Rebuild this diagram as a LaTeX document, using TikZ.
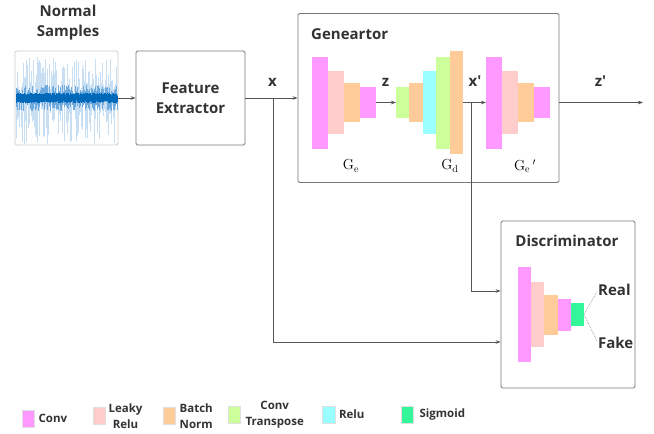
\documentclass[tikz,border=0pt]{standalone}
\usepackage{fontspec}
\setsansfont{Open Sans}
\usepackage{tikz}
\usetikzlibrary{arrows.meta,positioning}
\definecolor{convpink}{RGB}{255,153,255}
\definecolor{leakyrose}{RGB}{255,204,204}
\definecolor{bnorange}{RGB}{255,204,153}
\definecolor{tconvgreen}{RGB}{204,255,153}
\definecolor{relucyan}{RGB}{153,255,255}
\definecolor{sigmgreen}{RGB}{51,245,153}
\definecolor{txtgray}{RGB}{51,51,51}
\definecolor{linegray}{RGB}{85,85,85}
\definecolor{boxgray}{RGB}{120,120,120}
\definecolor{sigdark}{RGB}{0,105,185}
\definecolor{sigmid}{RGB}{110,170,222}
\definecolor{siglight}{RGB}{200,222,242}

\begin{document}
\begin{tikzpicture}[x=1pt,y=-1pt,>={Stealth[length=5pt,width=3.6pt]},
  every node/.style={text=txtgray,font=\sffamily\bfseries\fontsize{15}{20}\selectfont},
  box/.style={draw=boxgray,line width=0.8pt,rounded corners=1.5pt,inner sep=0pt},
  blk/.style={inner sep=0pt,outer sep=0pt,anchor=west},
  conn/.style={draw=linegray,line width=0.8pt},
  sym/.style={text=black,font=\rmfamily\fontsize{14.5}{16}\selectfont},
  legkey/.style={inner sep=0pt,minimum width=12.5,minimum height=17,draw=black!12,line width=0.3pt},
  legtxt/.style={inner sep=0pt,align=center,font=\sffamily\bfseries\fontsize{11.5}{16}\selectfont}]
  \useasboundingbox (0,0) rectangle (654,434);

  % input signal
  \node[box,draw=black!20,minimum width=103,minimum height=94] (sig) at (66.5,98) {};
  \pgfmathsetseed{42}
  \foreach \i in {0,...,400} {
    \pgfmathsetmacro{\xx}{16+\i*0.2525}
    \pgfmathsetmacro{\up}{5+36*rnd^5}
    \pgfmathsetmacro{\dn}{5+42*rnd^5}
    \draw[siglight,line width=0.3pt] (\xx,98-\up) -- (\xx,98+\dn);
  }
  \foreach \i in {0,...,300} {
    \pgfmathsetmacro{\xx}{16+\i*0.337}
    \pgfmathsetmacro{\up}{3+10*rnd^3}
    \pgfmathsetmacro{\dn}{3+10*rnd^3}
    \draw[sigmid,line width=0.25pt] (\xx,98-\up) -- (\xx,98+\dn);
  }
  \foreach \i in {0,...,400} {
    \pgfmathsetmacro{\xx}{16+\i*0.2525}
    \pgfmathsetmacro{\up}{1.5+3.5*rnd}
    \pgfmathsetmacro{\dn}{1.5+3.5*rnd}
    \draw[sigdark,line width=0.3pt] (\xx,98-\up) -- (\xx,98+\dn);
  }
  \node[align=center] (ns) at (68,23) {Normal\\Samples};

  \node[box,align=center,minimum width=109,minimum height=94] (fe) at (190.5,98) {Feature\\Extractor};

  % generator
  \node[box,minimum width=261,minimum height=169] (gen) at (428.5,98) {};
  \node[anchor=west,inner sep=0pt] (gtitle) at (311,34) {Geneartor};
  \foreach \c/\h [count=\i] in {convpink/92,leakyrose/63,bnorange/39,convpink/31} {
    \node[blk,fill=\c,minimum width=16,minimum height=\h] (ge\i) at ({296+16*\i},102.5) {};
    \node[blk,fill=\c,minimum width=16,minimum height=\h] (gp\i) at ({470+16*\i},102.5) {};
  }
  \foreach \c/\h [count=\i] in {tconvgreen/31,bnorange/39,relucyan/63,tconvgreen/92,bnorange/103}
    \node[blk,fill=\c,minimum width=13.4,minimum height=\h] (gd\i) at ({382.6+13.4*\i},102.5) {};
  \node[sym] (gelab) at (351,166) {G\textsubscript{e}};
  \node[sym] (gdlab) at (450,166) {G\textsubscript{d}};
  \node[sym] (gplab) at (525,166) {G\textsubscript{e}\,\textsuperscript{$\prime$}};

  % discriminator
  \node[box,minimum width=134,minimum height=167] (dis) at (568,304.5) {};
  \node (dtitle) at (567,241) {Discriminator};
  \foreach \c/\h [count=\i] in {convpink/95,leakyrose/65,bnorange/40,convpink/32,sigmgreen/23}
    \node[blk,fill=\c,minimum width=13.2,minimum height=\h] (dd\i) at ({504.8+13.2*\i},314.5) {};
  \node[anchor=west,inner sep=0pt] (real) at (598,290) {Real};
  \node[anchor=west,inner sep=0pt] (fake) at (598,343) {Fake};
  \draw[densely dotted,draw=gray,line width=0.6pt,shorten >=2pt] (dd5.east) -- (real.west);
  \draw[densely dotted,draw=gray,line width=0.6pt,shorten >=2pt] (dd5.east) -- (fake.west);

  % connectors
  \draw[conn,->] (sig) -- (fe);
  \draw[conn,->] (fe) -- (gen);
  \coordinate (xj) at (273,98);
  \draw[conn,->] (xj) |- (dis.west |- 0,342);
  \draw[conn,->] (ge4) -- (gd1);
  \draw[conn,->] (gd5) -- (gp1);
  \coordinate (xpj) at (471,102.5);
  \draw[conn,->] (xpj) |- (dis.west |- 0,291);
  \coordinate (zout) at (643,102.5);
  \draw[conn,->] (gen.east |- gp4) -- (zout);
  \node[anchor=base] (xl) at (272.5,86) {x};
  \node[anchor=base] (zl) at (385.5,86) {z};
  \node[anchor=base] (xpl) at (475,86) {x\textquotesingle};
  \node[anchor=base] (zpl) at (600.5,86) {z\textquotesingle};

  % legend
  \node[legkey,fill=convpink] (k1) at (28,418.5) {};
  \node[legtxt,right=4pt of k1] (t1) {Conv};
  \node[legkey,fill=leakyrose] (k2) at (99,416) {};
  \node[legtxt,right=3pt of k2] (t2) {Leaky\\Relu};
  \node[legkey,fill=bnorange] (k3) at (169,416) {};
  \node[legtxt,right=4pt of k3] (t3) {Batch\\Norm};
  \node[legkey,fill=tconvgreen] (k4) at (234,415) {};
  \node[legtxt,right=5pt of k4] (t4) {Conv\\Transpose};
  \node[legkey,fill=relucyan] (k5) at (328.5,414.5) {};
  \node[legtxt,right=4pt of k5] (t5) {Relu};
  \node[legkey,fill=sigmgreen] (k6) at (407,415) {};
  \node[legtxt,right=6pt of k6] (t6) {Sigmoid};
\end{tikzpicture}
\end{document}
